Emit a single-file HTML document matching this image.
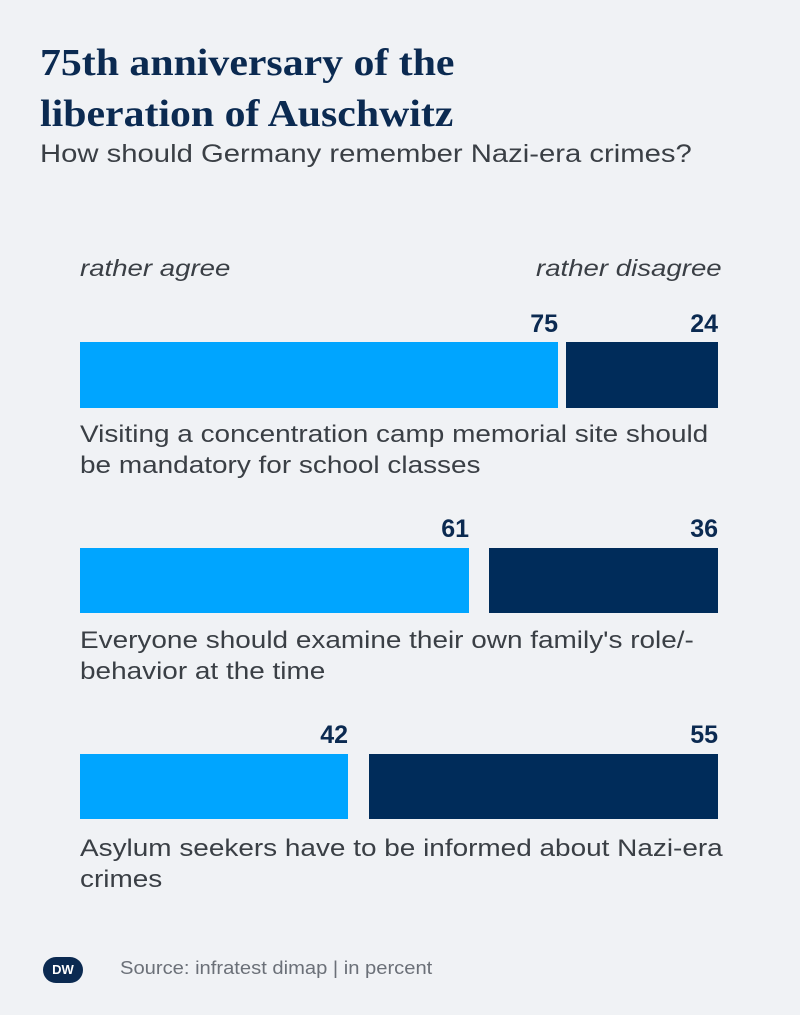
<!DOCTYPE html>
<html><head><style>
body{margin:0;width:800px;height:1015px;background:#f0f2f5;position:relative;font-family:"Liberation Sans",sans-serif;overflow:hidden}
.a{position:absolute;transform-origin:0 0;white-space:nowrap}
.t{left:40px;top:38px;font-family:"Liberation Serif",serif;font-size:38px;font-weight:bold;line-height:51px;color:#0b2a51;transform:scaleX(1.10)}
.s{left:40px;top:140px;font-size:25px;color:#3a3f45;transform:scaleX(1.17)}
.i{top:255px;font-size:23px;font-style:italic;color:#3a3f45;transform:scaleX(1.2)}
.n{font-size:25px;font-weight:bold;color:#0b2a51;text-align:right;width:80px}
.l{background:#00a5ff}.d{background:#002c5a}
.x{left:80px;font-size:24.5px;line-height:31px;color:#3a3f45;transform:scaleX(1.14)}
</style></head><body>
<div class="a t">75th anniversary of the<br>liberation of Auschwitz</div>
<div class="a s">How should Germany remember Nazi-era crimes?</div>
<div class="a i" style="left:80px">rather agree</div>
<div class="a i" style="left:536px">rather disagree</div>

<div class="a n" style="left:478px;top:310px">75</div>
<div class="a n" style="left:638px;top:310px">24</div>
<div class="a l" style="left:80px;top:342px;width:478px;height:66px"></div>
<div class="a d" style="left:566px;top:342px;width:152px;height:66px"></div>
<div class="a x" style="top:419px">Visiting a concentration camp memorial site should<br>be mandatory for school classes</div>

<div class="a n" style="left:389px;top:515px">61</div>
<div class="a n" style="left:638px;top:515px">36</div>
<div class="a l" style="left:80px;top:548px;width:389px;height:65px"></div>
<div class="a d" style="left:489px;top:548px;width:229px;height:65px"></div>
<div class="a x" style="top:625px">Everyone should examine their own family's role/-<br>behavior at the time</div>

<div class="a n" style="left:268px;top:721px">42</div>
<div class="a n" style="left:638px;top:721px">55</div>
<div class="a l" style="left:80px;top:754px;width:268px;height:65px"></div>
<div class="a d" style="left:369px;top:754px;width:349px;height:65px"></div>
<div class="a x" style="top:833px">Asylum seekers have to be informed about Nazi-era<br>crimes</div>

<div class="a" style="left:43px;top:957px;width:40px;height:26px;border-radius:13px;background:#0b2a51;color:#fff;font-size:13px;font-weight:bold;text-align:center;line-height:26px">DW</div>
<div class="a" style="left:120px;top:958px;font-size:18px;color:#6b7078;transform:scaleX(1.12)">Source: infratest dimap | in percent</div>
</body></html>
